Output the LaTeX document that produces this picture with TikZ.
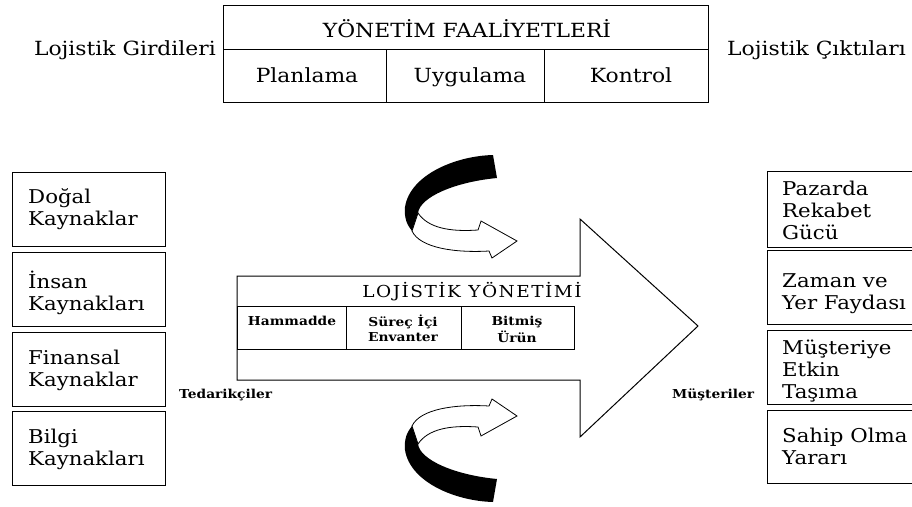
\documentclass[tikz,border=0pt]{standalone}
\usepackage{fontspec}
\setmainfont{DejaVu Serif}[FakeStretch=1.12]
\begin{document}
\begin{tikzpicture}[x=1pt,y=-1pt,
  box/.style={draw, line width=1.4pt, inner sep=0pt, anchor=north west},
  lbl/.style={font=\fontsize{19}{22}\selectfont, inner sep=0pt, align=left},
  toplbl/.style={font=\fontsize{19.5}{22}\selectfont, inner sep=0pt},
  sm/.style={font=\bfseries\fontsize{12.3}{15}\selectfont, inner sep=0pt, align=center},
  cell/.style={draw, line width=1pt, inner sep=0pt, anchor=north west, minimum height=43pt},
  outl/.style={draw, line width=1pt, line join=miter}]
\useasboundingbox (0,0) rectangle (912,506);

% ---- top table
\node[box, minimum width=485pt, minimum height=44pt] (yf) at (223,5) {};
\node[box, minimum width=163pt, minimum height=53pt] (plan) at (223,49) {};
\node[box, minimum width=158pt, minimum height=53pt] (uyg) at (386,49) {};
\node[box, minimum width=164pt, minimum height=53pt] (kon) at (544,49) {};
\node[toplbl, anchor=base] (yft) at (467,37) {YÖNETİM FAALİYETLERİ};
\node[toplbl, anchor=base] (plant) at (307,82) {Planlama};
\node[toplbl, anchor=base] (uygt) at (470,82) {Uygulama};
\node[toplbl, anchor=base] (kont) at (631,82) {Kontrol};
\node[toplbl, anchor=base east] (girdi) at (216,55) {Lojistik Girdileri};
\node[toplbl, anchor=base west] (cikti) at (727,55) {Lojistik Çıktıları};

% ---- left boxes
\node[box, minimum width=153pt, minimum height=74pt] (dk) at (12,172) {};
\node[box, minimum width=153pt, minimum height=74pt] (ik) at (12,252) {};
\node[box, minimum width=153pt, minimum height=74pt] (fk) at (12,332) {};
\node[box, minimum width=153pt, minimum height=74pt] (bk) at (12,411) {};
\node[lbl, anchor=north west] (dkt) at (28,203-15.4) {\strut Doğal\\Kaynaklar};
\node[lbl, anchor=north west] (ikt) at (28,286-15.4) {\strut İnsan\\Kaynakları};
\node[lbl, anchor=north west] (fkt) at (28,364-15.4) {\strut Finansal\\Kaynaklar};
\node[lbl, anchor=north west] (bkt) at (28,443-15.4) {\strut Bilgi\\Kaynakları};

% ---- right boxes
\node[box, minimum width=190pt, minimum height=76pt] (pr) at (767,171) {};
\node[box, minimum width=190pt, minimum height=74pt] (zy) at (767,250) {};
\node[box, minimum width=190pt, minimum height=74pt] (me) at (767,330) {};
\node[box, minimum width=190pt, minimum height=73pt] (so) at (767,410) {};
\node[lbl, anchor=north west] (prt) at (782,195-15.4) {\strut Pazarda\\Rekabet\\Gücü};
\node[lbl, anchor=north west] (zyt) at (782,287-15.4) {\strut Zaman ve\\Yer Faydası};
\node[lbl, anchor=north west] (met) at (782,354-15.4) {\strut Müşteriye\\Etkin\\Taşıma};
\node[lbl, anchor=north west] (sot) at (782,442-15.4) {\strut Sahip Olma\\Yararı};

% ---- big arrow
\draw[outl, fill=white] (237,276) -- (580,276) -- (580,219) -- (698,326)
  -- (580,437) -- (580,380) -- (237,380) -- cycle;
\node[inner sep=0pt, anchor=base, font=\fontsize{16.5}{18}\selectfont\addfontfeature{LetterSpace=9}] (lym) at (472,297) {LOJİSTİK YÖNETİMİ};
\node[cell, minimum width=109pt] (c1) at (237,306) {};
\node[cell, minimum width=115pt] (c2) at (346,306) {};
\node[cell, minimum width=113pt] (c3) at (461,306) {};
\node[sm, anchor=north] (c1t) at (292,325-10.5) {\strut Hammadde};
\node[sm, anchor=north] (c2t) at (403,325-10.5) {\strut Süreç İçi\\Envanter};
\node[sm, anchor=north] (c3t) at (517,325-10.5) {\strut Bitmiş\\Ürün};
\node[sm, anchor=base west] (ted) at (179,398) {Tedarikçiler};
\node[sm, anchor=base west] (mus) at (672,398) {Müşteriler};

% ---- twisted ribbon arrows
\newcommand\ribbonarrow{%
  \fill[black] (493,155) .. controls (455,156) and (410,175) .. (405,207)
     .. controls (404,218) and (407,225) .. (412,231) -- (418,213)
     .. controls (420,197) and (455,182) .. (497,178) -- cycle;
  \draw[line width=0.8pt, fill=white, line join=miter] (418,213)
     .. controls (428,228) and (450,232) .. (478,230) -- (481,221) -- (517,241)
     -- (492,258) -- (489,251)
     .. controls (455,253) and (420,248) .. (412,231) -- cycle;
}
\begin{scope}
  \ribbonarrow
\end{scope}
\begin{scope}[yshift=-657pt, yscale=-1]
  \ribbonarrow
\end{scope}
\end{tikzpicture}
\end{document}
